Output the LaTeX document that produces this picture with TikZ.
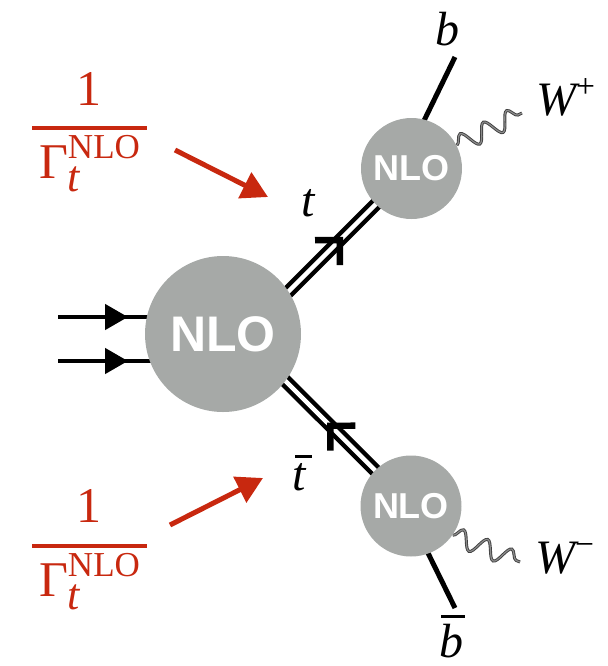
\documentclass[tikz,border=0pt]{standalone}
\usepackage{amsmath}
\usepackage{fontspec}
\setmainfont{Liberation Serif}
\setsansfont{Liberation Sans}
\usetikzlibrary{arrows.meta, decorations.pathmorphing, decorations.markings, backgrounds}
\definecolor{BlobGray}{HTML}{A6A9A7}
\definecolor{WidthRed}{HTML}{C8280F}
\newcommand{\barlbl}[2]{\setbox0\hbox{\itshape #1}\vbox{\offinterlineskip\hbox{\kern#2\vrule height 1.6pt depth 0pt width \wd0}\kern 3pt\box0}}

\begin{document}
\begin{tikzpicture}[
    x=0.5pt, y=-0.5pt,
    blob/.style={circle, fill=BlobGray, inner sep=0pt, text=white},
    bigblob/.style={blob, minimum size=78pt, font=\sffamily\bfseries\fontsize{25}{30}\selectfont},
    smallblob/.style={blob, minimum size=50.5pt, font=\sffamily\bfseries\fontsize{18}{22}\selectfont},
    lbl/.style={inner sep=0pt, font=\fontsize{24}{28}\selectfont},
    redtxt/.style={inner sep=0pt, text=WidthRed, font=\fontsize{25}{30}\selectfont},
    beam/.style={line width=2.3pt, shorten >=-5pt, postaction={decorate},
      decoration={markings, mark=at position 35pt with {\arrow{Triangle[length=11.5pt, width=12.5pt]}}}},
    dline/.style={double, line width=2.2pt, double distance=2.2pt, shorten <=-4pt, shorten >=-2pt},
    flow/.style={decorate, decoration={markings, mark=at position #1 with {\draw[line width=3.2pt] (-8.8pt,8.8pt) -- (0,0) -- (-8.8pt,-8.8pt);}}},
    leg/.style={line width=2.5pt, shorten <=-2pt},
    wave/.style={decorate, decoration={snake, amplitude=4.5pt, segment length=13pt},
      draw=black!75, line width=0.45pt, double=black!45, double distance=0.6pt},
    redarr/.style={WidthRed, line width=2.5pt, -{Triangle[length=13pt, width=14pt]}},
    fracbar/.style={WidthRed, line width=2pt}
  ]
  \useasboundingbox (0,0) rectangle (607,666);

  % blobs
  \node[bigblob] (main) at (223,334) {NLO};
  \node[smallblob] (tb) at (411.5,168.5) {NLO};
  \node[smallblob] (bb) at (411,506) {NLO};

  % free ends
  \coordinate (in1) at (58,317);
  \coordinate (in2) at (58,361);
  \coordinate (bq) at (455,57);
  \coordinate (bbq) at (455,608);
  \coordinate (wp) at (522,113);
  \coordinate (wm) at (520,562);

  % labels
  \node[lbl] (tlab) at (308,203) {\itshape t};
  \node[lbl] (tbarlab) at (302,473) {\barlbl{t\kern1.5pt}{1.5pt}};
  \node[lbl] (blab) at (448,29) {\itshape b};
  \node[lbl] (bbarlab) at (452,636) {\barlbl{b}{1pt}};
  \node[lbl] (wplab) at (566,97) {{\itshape W}\textsuperscript{+}};
  \node[lbl] (wmlab) at (565,558) {{\itshape W}\textsuperscript{−}};

  % widths
  \node[redtxt] (one1) at (89,89) {1};
  \node[redtxt] (gam1) at (90,164) {$\text{Γ}_{\text{\fontsize{22}{24}\selectfont\itshape t}}^{\text{NLO}}$};
  \draw[fracbar] (32,128) -- (147,128);
  \node[redtxt] (one2) at (89,506) {1};
  \node[redtxt] (gam2) at (90,582) {$\text{Γ}_{\text{\fontsize{22}{24}\selectfont\itshape t}}^{\text{NLO}}$};
  \draw[fracbar] (32,546) -- (147,546);

  \coordinate (ra1) at (175,150);
  \coordinate (ra1t) at (268,197);
  \coordinate (ra2) at (170,525);
  \coordinate (ra2t) at (263,478);
  \draw[redarr] (ra1) -- (ra1t);
  \draw[redarr] (ra2) -- (ra2t);

  \begin{pgfonlayer}{background}
    \draw[beam] (in1) -- (in1 -| main.west);
    \draw[beam] (in2) -- (in2 -| main.west);
    \draw[dline] (main.33) -- (tb);
    \draw[dline] (main.-37) -- (bb);
    \draw[leg] (tb.75) -- (bq);
    \draw[leg] (bb.-70) -- (bbq);
    \draw[wave] (tb.27) -- (wp);
    \draw[wave] (bb.-35) -- (wm);
  \end{pgfonlayer}
  \path[flow=0.59] (main.33) -- (tb);
  \path[flow=0.5] (bb) -- (main.-37);
\end{tikzpicture}
\end{document}
